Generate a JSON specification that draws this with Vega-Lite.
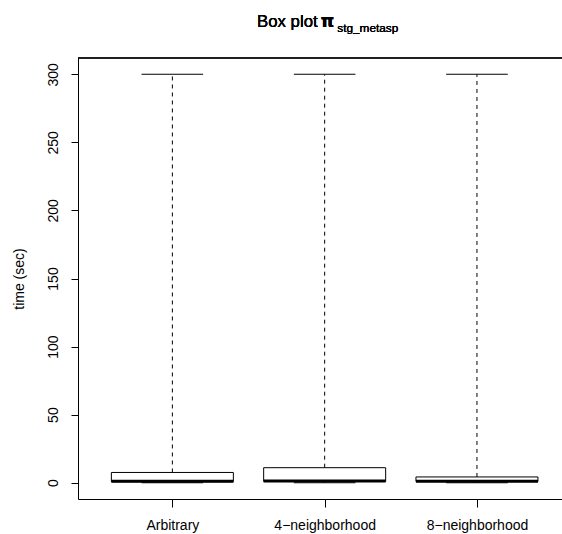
{
  "$schema": "https://vega.github.io/schema/vega-lite/v6.json",
  "width": 484,
  "height": 441,
  "autosize": "none",
  "padding": {"left": 78, "top": 58, "right": 0, "bottom": 35},
  "background": "white",
  "config": {"view": {"stroke": null}, "font": "Liberation Sans"},
  "data": {
    "values": [
      {"group": "Arbitrary", "min": 0, "q1": 0.7, "median": 1.0, "q3": 7.5, "max": 300},
      {"group": "4-neighborhood", "min": 0, "q1": 0.9, "median": 1.3, "q3": 11, "max": 300},
      {"group": "8-neighborhood", "min": 0, "q1": 0.8, "median": 1.0, "q3": 4.2, "max": 300}
    ]
  },
  "encoding": {
    "x": {
      "field": "group",
      "type": "nominal",
      "sort": ["Arbitrary", "4-neighborhood", "8-neighborhood"],
      "scale": {"type": "point", "padding": 0.589, "align": 0.526},
      "axis": {
        "title": null,
        "labelAngle": 0,
        "tickSize": 8,
        "labelPadding": 11,
        "labelFontSize": 14,
        "labelFont": "Liberation Sans",
        "labelColor": "black",
        "tickColor": "black",
        "domainColor": "black",
        "labelExpr": "replace(datum.label, '-', '\u2212')",
        "grid": false
      }
    }
  },
  "layer": [
    {
      "mark": {"type": "rule", "color": "black", "strokeWidth": 1},
      "encoding": {"y": {"datum": 312, "type": "quantitative"}, "x": null}
    },
    {
      "mark": {"type": "rule", "color": "black", "strokeWidth": 1, "strokeDash": [4, 4]},
      "encoding": {
        "y": {
          "field": "q3",
          "type": "quantitative",
          "scale": {"domain": [-12, 312], "nice": false, "zero": false},
          "axis": {
            "values": [0, 50, 100, 150, 200, 250, 300],
            "title": "time (sec)",
            "grid": false,
            "labelAngle": -90,
            "labelAlign": "center",
            "labelBaseline": "bottom",
            "tickSize": 7,
            "labelPadding": 11,
            "labelFontSize": 14,
            "labelFont": "Liberation Sans",
            "labelColor": "black",
            "tickColor": "black",
            "domainColor": "black",
            "titleFontSize": 14,
            "titleFont": "Liberation Sans",
            "titleFontWeight": "normal",
            "titleColor": "black",
            "titlePadding": 20
          }
        },
        "y2": {"field": "max"}
      }
    },
    {
      "mark": {"type": "rule", "color": "black", "strokeWidth": 1, "strokeDash": [4, 4]},
      "encoding": {
        "y": {"field": "min", "type": "quantitative"},
        "y2": {"field": "q1"}
      }
    },
    {
      "mark": {"type": "tick", "color": "black", "size": 61.6, "thickness": 1, "opacity": 1},
      "encoding": {"y": {"field": "max", "type": "quantitative"}}
    },
    {
      "mark": {"type": "tick", "color": "black", "size": 61.6, "thickness": 1, "opacity": 1},
      "encoding": {"y": {"field": "min", "type": "quantitative"}}
    },
    {
      "mark": {"type": "bar", "size": 122, "fill": "white", "stroke": "black", "strokeWidth": 1},
      "encoding": {
        "y": {"field": "q1", "type": "quantitative"},
        "y2": {"field": "q3"}
      }
    },
    {
      "mark": {"type": "tick", "color": "black", "size": 122, "thickness": 3, "opacity": 1},
      "encoding": {"y": {"field": "median", "type": "quantitative"}}
    },
    {
      "mark": {"type": "text", "text": "Box plot", "fontSize": 16.8, "fontWeight": "normal", "font": "Liberation Sans", "align": "right", "baseline": "alphabetic", "dx": -7, "dy": -31, "color": "black"},
      "encoding": {"x": {"datum": "4-neighborhood"}, "y": {"datum": 312, "type": "quantitative"}}
    },
    {
      "mark": {"type": "text", "text": "π", "fontWeight": "bold", "fontSize": 17, "font": "DejaVu Sans", "align": "left", "baseline": "alphabetic", "dx": -4, "dy": -31, "color": "black"},
      "encoding": {"x": {"datum": "4-neighborhood"}, "y": {"datum": 312, "type": "quantitative"}}
    },
    {
      "mark": {"type": "text", "text": "stg_metasp", "fontSize": 11.8, "fontWeight": "normal", "font": "Liberation Sans", "align": "left", "baseline": "alphabetic", "dx": 12.6, "dy": -26, "color": "black"},
      "encoding": {"x": {"datum": "4-neighborhood"}, "y": {"datum": 312, "type": "quantitative"}}
    }
  ]
}
